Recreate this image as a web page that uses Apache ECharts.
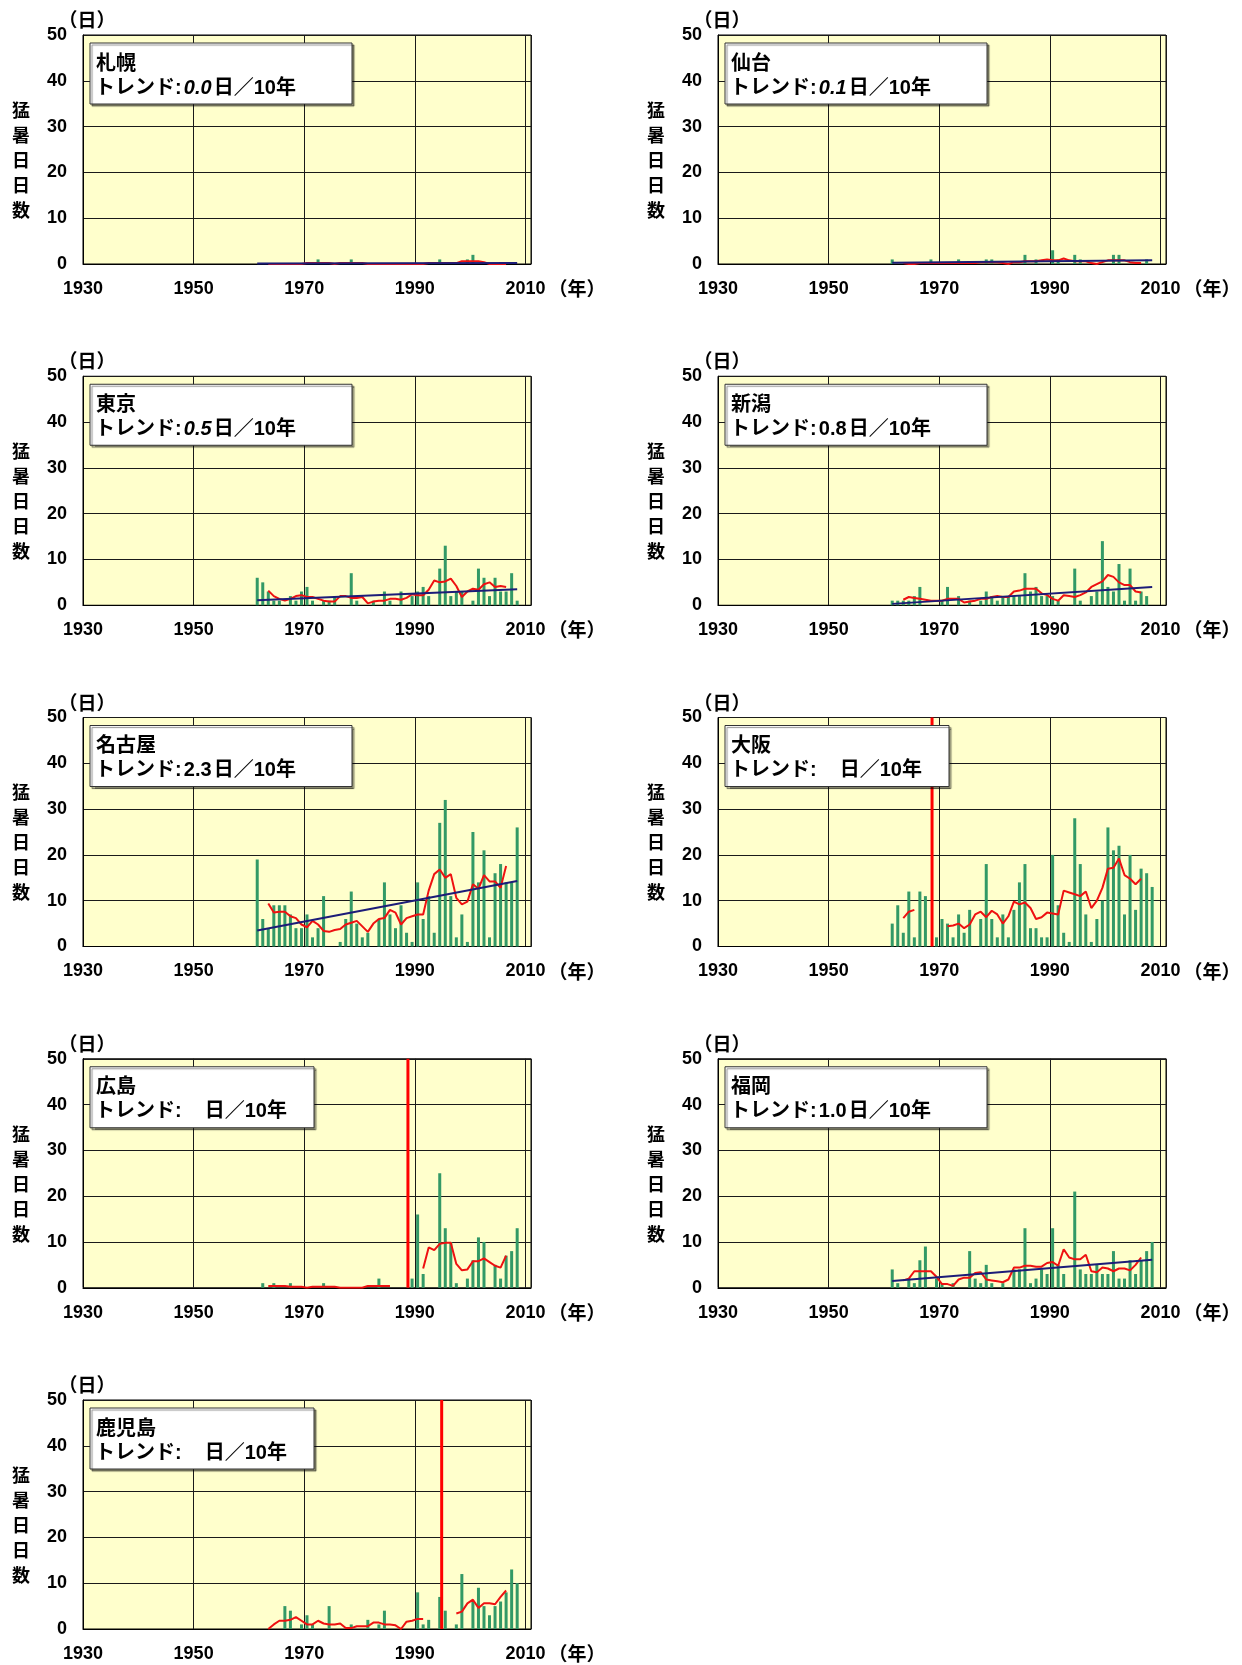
<!DOCTYPE html>
<html>
<head>
<meta charset="utf-8">
<script src="https://cdn.jsdelivr.net/npm/echarts@6/dist/echarts.min.js"></script>
<style>
  html, body { margin: 0; padding: 0; background: #ffffff; }
  #chart { width: 1242px; height: 1665px; }
</style>
</head>
<body>
<div id="chart"></div>
<script>
// Years with observations (one bar per year)
const years = [1961,1962,1963,1964,1965,1966,1967,1968,1969,1970,
               1971,1972,1973,1974,1975,1976,1977,1978,1979,1980,
               1981,1982,1983,1984,1985,1986,1987,1988,1989,1990,
               1991,1992,1993,1994,1995,1996,1997,1998,1999,2000,
               2001,2002,2003,2004,2005,2006,2007,2008];
// Centred 5-year running means exist from 1963 to 2006
const avgYears = years.slice(2, 46);
const xTicks = [1930, 1950, 1970, 1990, 2010];
const yTicks = [0, 10, 20, 30, 40, 50];

// 札幌
const sapporoDays = [0,0,0,0,0,0,0,0,0,0, 0,1,0,0,0,0,0,1,0,0, 0,0,0,0,0,0,0,0,0,0, 0,0,0,1,0,0,0,0,1,2, 0,0,0,0,0,0,0,0];
const sapporoAvg  = [0,0,0,0,0,0,0,0.2,0.2,0.2, 0.2,0.2,0,0.2,0.2,0.2,0.2,0.2,0,0, 0,0,0,0,0,0,0,0,0,0.2, 0.2,0.2,0.2,0.2,0.2,0.6,0.6,0.6,0.6,0.4, 0,0,0,0];
const sapporoFit  = [0.1, 0.2];

// 仙台
const sendaiDays = [1,0,0,0,0,0,0,1,0,0, 0,0,1,0,0,0,0,1,1,0, 0,0,0,0,2,0,1,0,0,3, 1,0,0,2,1,0,0,0,0,0, 2,2,0,0,0,0,1,0];
const sendaiAvg  = [0.2,0,0,0.2,0.2,0.2,0.2,0.2,0.2,0.2, 0.2,0.2,0.2,0.2,0.4,0.4,0.4,0.4,0.2,0, 0.4,0.4,0.6,0.6,0.6,0.8,1.0,0.8,0.8,1.2, 0.8,0.6,0.6,0.6,0.2,0,0.4,0.8,0.8,0.8, 0.8,0.4,0.2,0.2];
const sendaiFit  = [0.3, 0.8];

// 東京
const tokyoDays = [6,5,3,1,1,0,2,1,3,4, 1,0,1,1,2,0,0,7,1,0, 0,1,0,3,1,0,3,0,2,3, 4,2,0,8,13,2,3,3,0,1, 8,6,2,6,3,3,7,1];
const tokyoAvg  = [3.2,2.0,1.4,1.0,1.4,2.0,2.2,1.8,1.8,1.4, 1.0,0.8,0.8,2.0,2.0,1.6,1.6,1.8,0.4,0.8, 1.0,1.0,1.4,1.4,1.2,1.6,2.4,2.2,2.2,3.4, 5.4,5.0,5.2,5.8,4.2,1.8,3.0,3.6,3.4,4.6, 5.0,4.0,4.2,4.0];
const tokyoFit  = [1.1, 3.5];

// 新潟
const niigataDays = [1,1,1,1,2,4,0,0,0,1, 4,0,2,0,1,0,1,3,2,1, 2,2,2,2,7,3,4,2,2,2, 1,0,0,8,1,0,2,3,14,4, 3,9,1,8,1,3,2,0];
const niigataAvg  = [1.2,1.8,1.6,1.4,1.2,1.0,1.0,1.0,1.4,1.4, 1.4,0.6,0.8,1.0,1.4,1.4,1.8,2.0,1.8,1.8, 3.0,3.2,3.6,3.6,3.6,2.6,2.2,1.4,1.0,2.2, 2.0,1.8,2.2,2.8,4.0,4.6,5.2,6.6,6.2,5.0, 4.4,4.4,3.0,2.8];
const niigataFit  = [0.3, 4.0];

// 名古屋
const nagoyaDays = [19,6,4,9,9,9,7,4,4,7, 2,4,11,0,0,1,6,12,5,2, 3,0,6,14,7,4,9,3,1,14, 6,11,3,27,32,11,2,7,1,25, 14,21,2,16,18,14,14,26];
const nagoyaAvg  = [9.4,7.4,7.6,7.6,6.6,6.2,4.8,4.2,5.6,4.8, 3.4,3.2,3.6,3.8,4.8,5.2,5.6,4.4,3.2,5.0, 6.0,6.2,8.0,7.4,4.8,6.2,6.6,7.0,7.0,12.2, 15.8,16.8,15.0,15.8,10.6,9.2,9.8,13.6,12.6,15.6, 14.2,14.2,12.8,17.6];
const nagoyaFit  = [3.5, 14.3];

// 大阪 (station moved in 1968)
const osakaDays = [5,9,3,12,2,12,11,null,2,6, 5,2,7,3,8,0,6,18,6,2, 7,2,8,14,18,4,4,2,2,20, 9,3,1,28,18,7,1,6,10,26, 21,22,7,20,8,17,16,13];
const osakaAvg  = [6.2,7.6,8.0,null,null,null,null,null,4.4,4.6, 5.0,4.0,4.8,7.0,7.6,6.4,7.8,7.0,5.0,6.6, 9.8,9.2,9.6,8.4,6.0,6.4,7.4,7.2,7.0,12.2, 11.8,11.4,11.0,12.0,8.4,10.0,12.8,17.0,17.2,19.2, 15.6,14.8,13.6,14.8];
const osakaMoved = 1968.7;

// 広島 (station moved in 1988)
const hiroshimaDays = [0,1,0,1,0,0,1,0,0,0, 0,0,1,0,0,0,0,0,0,0, 0,0,2,0,0,0,0,null,2,16, 3,0,0,25,13,10,1,0,2,6, 11,10,0,5,2,7,8,13];
const hiroshimaAvg  = [0.4,0.4,0.4,0.4,0.2,0.2,0.2,0,0.2,0.2, 0.2,0.2,0.2,0,0,0,0,0,0.4,0.4, 0.4,0.4,0.4,null,null,null,null,null,4.2,8.8, 8.2,9.6,9.8,9.8,5.2,3.8,4.0,5.8,5.8,6.4, 5.6,4.8,4.4,7.0];
const hiroshimaMoved = 1988.75;

// 福岡
const fukuokaDays = [4,1,0,2,1,6,9,0,2,1, 0,1,0,0,8,2,1,5,1,0, 1,0,4,4,13,1,2,4,3,13, 5,3,0,21,4,3,3,5,3,3, 8,2,2,6,3,6,8,10];
const fukuokaAvg  = [1.6,2.0,3.6,3.6,3.6,3.6,2.4,0.8,0.8,0.4, 1.8,2.2,2.2,3.2,3.4,1.8,1.6,1.4,1.2,1.8, 4.4,4.4,4.8,4.8,4.6,4.6,5.4,5.6,4.8,8.4, 6.6,6.2,6.2,7.2,3.6,3.4,4.4,4.2,3.6,4.2, 4.2,3.8,5.0,6.6];
const fukuokaFit  = [1.5, 6.1];

// 鹿児島 (station moved in 1994)
const kagoshimaDays = [0,0,0,0,0,5,4,0,1,3, 1,0,0,5,0,0,0,1,0,0, 2,0,1,4,0,0,0,0,0,8, 1,2,0,7,4,0,1,12,0,6, 9,5,3,5,6,8,13,10];
const kagoshimaAvg  = [0,1.0,1.8,1.8,2.0,2.6,1.8,1.0,1.0,1.8, 1.2,1.0,1.0,1.2,0.2,0.2,0.6,0.6,0.6,1.4, 1.4,1.0,1.0,0.8,0,1.6,1.8,2.2,2.2,null, null,null,null,null,3.4,3.8,5.6,6.4,4.6,5.6, 5.6,5.4,7.0,8.4];
const kagoshimaMoved = 1994.85;

const stations = [
  { name: '札幌',   trend: '0.0', italic: true,  days: sapporoDays,   avg: sapporoAvg,   fit: sapporoFit,  moved: null },
  { name: '仙台',   trend: '0.1', italic: true,  days: sendaiDays,    avg: sendaiAvg,    fit: sendaiFit,   moved: null },
  { name: '東京',   trend: '0.5', italic: true,  days: tokyoDays,     avg: tokyoAvg,     fit: tokyoFit,    moved: null },
  { name: '新潟',   trend: '0.8', italic: false, days: niigataDays,   avg: niigataAvg,   fit: niigataFit,  moved: null },
  { name: '名古屋', trend: '2.3', italic: false, days: nagoyaDays,    avg: nagoyaAvg,    fit: nagoyaFit,   moved: null },
  { name: '大阪',   trend: '',    italic: false, days: osakaDays,     avg: osakaAvg,     fit: null,        moved: osakaMoved },
  { name: '広島',   trend: '',    italic: false, days: hiroshimaDays, avg: hiroshimaAvg, fit: null,        moved: hiroshimaMoved },
  { name: '福岡',   trend: '1.0', italic: false, days: fukuokaDays,   avg: fukuokaAvg,   fit: fukuokaFit,  moved: null },
  { name: '鹿児島', trend: '',    italic: false, days: kagoshimaDays, avg: kagoshimaAvg, fit: null,        moved: kagoshimaMoved }
];

// ---- layout ----
const FONT_NUM = '"Liberation Sans", "Noto Sans CJK JP", sans-serif';
const FONT_JP = '"Noto Sans CJK JP", "Liberation Sans", sans-serif';
const GRID_W = 448, GRID_H = 229;
const COL_X = [83, 718];
const ROW_TOP = 35, ROW_STEP = 341.25;
const BAR_COLOR = '#339966';
const AVG_COLOR = '#ee1111';
const FIT_COLOR = '#1c1c78';
const GRID_LINE = '#1a1a1a';

const grids = [], xAxes = [], yAxes = [], series = [], graphics = [];

stations.forEach((st, i) => {
  const gx = COL_X[i % 2];
  const gy = ROW_TOP + Math.floor(i / 2) * ROW_STEP;

  grids.push({
    left: gx, top: gy, width: GRID_W, height: GRID_H,
    show: true, backgroundColor: '#ffffcc', borderColor: '#000', borderWidth: 1
  });
  xAxes.push({
    type: 'value', gridIndex: i, min: 1930, max: 2011, interval: 20,
    axisLine: { show: true, onZero: false, lineStyle: { color: '#000', width: 1 } },
    axisTick: { show: false },
    axisLabel: {
      margin: 16, fontSize: 18, fontWeight: 'bold', color: '#000', fontFamily: FONT_NUM,
      formatter: v => (xTicks.indexOf(v) >= 0 ? String(v) : '')
    },
    splitLine: { show: true, lineStyle: { color: GRID_LINE, width: 1 } }
  });
  yAxes.push({
    type: 'value', gridIndex: i, min: yTicks[0], max: yTicks[yTicks.length - 1], interval: 10,
    axisLine: { show: true, lineStyle: { color: '#000', width: 1 } },
    axisTick: { show: false },
    axisLabel: { margin: 16, fontSize: 18, fontWeight: 'bold', color: '#000', fontFamily: FONT_NUM },
    splitLine: { show: true, lineStyle: { color: GRID_LINE, width: 1 } }
  });

  // yearly counts, each bar centred in its year
  series.push({
    type: 'bar', xAxisIndex: i, yAxisIndex: i, barWidth: 3, z: 2,
    itemStyle: { color: BAR_COLOR },
    data: st.days.map((d, k) => [years[k] + 0.5, d == null ? '-' : d])
  });
  // 5-year running mean
  series.push({
    type: 'line', xAxisIndex: i, yAxisIndex: i, z: 3, symbol: 'none', connectNulls: false,
    lineStyle: { color: AVG_COLOR, width: 2 },
    data: avgYears.map((y, k) => [y + 0.5, st.avg[k] == null ? '-' : st.avg[k]])
  });
  // long-term linear trend
  if (st.fit) {
    series.push({
      type: 'line', xAxisIndex: i, yAxisIndex: i, z: 4, symbol: 'none',
      lineStyle: { color: FIT_COLOR, width: 2 },
      data: [[years[0] + 0.5, st.fit[0]], [years[years.length - 1] + 0.5, st.fit[1]]]
    });
  }
  // station relocation marker
  if (st.moved != null) {
    series.push({
      type: 'line', xAxisIndex: i, yAxisIndex: i, z: 5, symbol: 'none',
      lineStyle: { color: '#ff0000', width: 3 },
      data: [[st.moved, yTicks[0]], [st.moved, yTicks[yTicks.length - 1]]]
    });
  }

  // unit labels and axis title
  graphics.push({
    type: 'text', x: gx + 4, y: gy - 15,
    style: { text: '（日）', font: 'bold 19px ' + FONT_JP, fill: '#000', align: 'center', verticalAlign: 'middle' }
  });
  graphics.push({
    type: 'text', x: gx + 494, y: gy + 254,
    style: { text: '（年）', font: 'bold 19px ' + FONT_JP, fill: '#000', align: 'center', verticalAlign: 'middle' }
  });
  graphics.push({
    type: 'text', x: gx - 62, y: gy + 125,
    style: { text: '猛\n暑\n日\n日\n数', font: 'bold 18px ' + FONT_JP, lineHeight: 25, fill: '#000', align: 'center', verticalAlign: 'middle' }
  });

  // station label box
  const boxW = st.trend ? 262 : 224;
  graphics.push({
    type: 'rect', x: gx + 7, y: gy + 8, z: 100,
    shape: { x: 0, y: 0, width: boxW, height: 61 },
    style: { fill: '#ffffff', stroke: '#333333', lineWidth: 1, shadowColor: 'rgba(0,0,0,0.45)', shadowOffsetX: 2, shadowOffsetY: 2, shadowBlur: 1 }
  });
  graphics.push({
    type: 'text', x: gx + 13, y: gy + 27, z: 101,
    style: { text: st.name, font: 'bold 20px ' + FONT_JP, fill: '#000', verticalAlign: 'middle' }
  });
  graphics.push({
    type: 'text', x: gx + 12, y: gy + 53, z: 101,
    style: {
      text: 'トレンド:{v|' + (st.trend || ' ') + '}日／10年',
      font: 'bold 20px ' + FONT_NUM, fill: '#000', verticalAlign: 'middle',
      rich: {
        v: { font: (st.italic ? 'italic ' : '') + 'bold 20px ' + FONT_NUM, fill: '#000', width: st.trend ? 32 : 23, align: 'center' }
      }
    }
  });
});

const chart = echarts.init(document.getElementById('chart'), null, { renderer: 'canvas' });
chart.setOption({
  animation: false,
  backgroundColor: '#ffffff',
  grid: grids,
  xAxis: xAxes,
  yAxis: yAxes,
  series: series,
  graphic: { elements: graphics }
});
</script>
</body>
</html>
